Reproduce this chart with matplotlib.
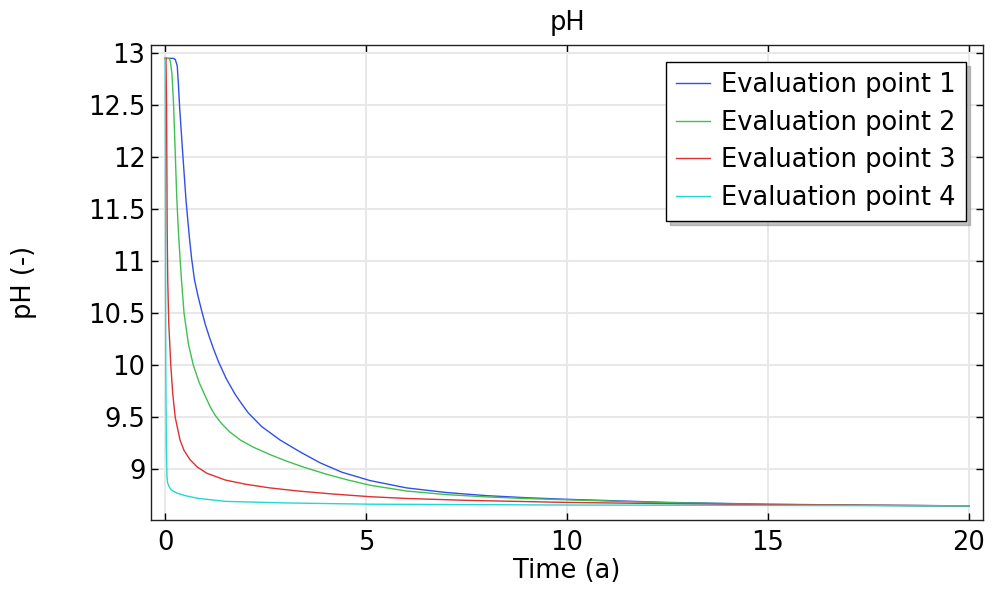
import numpy as np
import matplotlib.pyplot as plt
from matplotlib.ticker import FuncFormatter

# values (time in years, pH)
t1 = [0, 0.2, 0.25, 0.3, 0.33, 0.36, 0.44, 0.52, 0.6, 0.66, 0.73, 0.82, 0.91, 1.0, 1.1, 1.2, 1.33, 1.52, 1.74,
      1.9, 2.07, 2.4, 2.86, 3.36, 3.86, 4.4, 5.1, 6, 7, 8, 9, 10, 12.5, 15, 17.5, 20]
ph1 = [12.95, 12.95, 12.94, 12.88, 12.7, 12.48, 12.02, 11.58, 11.24, 11.02, 10.82, 10.66, 10.52, 10.39, 10.27, 10.16,
       10.03, 9.87, 9.72, 9.63, 9.54, 9.41, 9.28, 9.165, 9.06, 8.97, 8.89, 8.82, 8.775, 8.745, 8.725, 8.71, 8.68,
       8.663, 8.653, 8.647]

t2 = [0, 0.1, 0.13, 0.17, 0.21, 0.25, 0.29, 0.33, 0.4, 0.47, 0.58, 0.7, 0.85, 1.0, 1.12, 1.24, 1.4, 1.6,
      1.87, 2.2, 2.61, 3.0, 3.44, 4.0, 4.5, 5.1, 6, 7, 8, 9, 10, 12.5, 15, 17.5, 20]
ph2 = [12.95, 12.95, 12.92, 12.8, 12.5, 12.05, 11.6, 11.28, 10.85, 10.5, 10.2, 10.0, 9.83, 9.7, 9.6, 9.52, 9.44, 9.36,
       9.28, 9.21, 9.14, 9.08, 9.02, 8.953, 8.9, 8.845, 8.79, 8.755, 8.733, 8.717, 8.705, 8.677, 8.661, 8.652, 8.647]

t3 = [0, 0.02, 0.035, 0.05, 0.065, 0.09, 0.14, 0.19, 0.25, 0.37, 0.47, 0.62, 0.8, 1.04, 1.5, 2.0, 2.6,
      3.3, 4.2, 5.1, 6, 7.5, 10, 12.5, 15, 20]
ph3 = [12.95, 12.95, 12.5, 11.3, 10.8, 10.4, 10.0, 9.72, 9.5, 9.28, 9.18, 9.09, 9.02, 8.96, 8.895, 8.855, 8.82,
       8.79, 8.76, 8.735, 8.718, 8.7, 8.68, 8.668, 8.658, 8.647]

t4 = [0, 0.004, 0.008, 0.015, 0.03, 0.045, 0.06, 0.1, 0.15, 0.29, 0.5, 0.8, 1.5, 3, 5.1, 10, 20]
ph4 = [12.95, 12.6, 11.5, 10.0, 9.2, 8.93, 8.87, 8.83, 8.8, 8.77, 8.745, 8.72, 8.69, 8.675, 8.663, 8.655, 8.647]

labels = ['Evaluation point 1', 'Evaluation point 2', 'Evaluation point 3', 'Evaluation point 4']
colors = ['#3050e8', '#40c050', '#e03030', '#20d8d8']

fs = 18.5
plt.rcParams['font.family'] = 'DejaVu Sans'
fig = plt.figure(figsize=(9.94, 5.9), dpi=100)
ax = fig.add_axes([0.152, 0.119, 0.837, 0.805])

for t, ph, lab, c in zip([t1, t2, t3, t4], [ph1, ph2, ph3, ph4], labels, colors):
    ax.plot(t, ph, color=c, lw=1.0, label=lab)

ax.set_xlim(-0.35, 20.35)
ax.set_ylim(8.513, 13.08)
ax.set_xticks([0, 5, 10, 15, 20])
ax.set_yticks(np.arange(9, 13.01, 0.5))
ax.yaxis.set_major_formatter(FuncFormatter(lambda v, p: ('%g' % v)))
ax.tick_params(direction='in', length=5, width=1, top=True, right=True,
               labelsize=fs, labeltop=False, labelright=False, pad=4)
ax.tick_params(axis='x', pad=7.5)
ax.grid(True, color='#e8e8e8', lw=1.5)
ax.set_axisbelow(True)
for s in ax.spines.values():
    s.set_color('#222222')
    s.set_linewidth(1.0)

ax.set_title('pH', fontsize=fs, pad=11)
ax.set_xlabel('Time (a)', fontsize=fs, labelpad=1)
ax.set_ylabel('pH (-)', fontsize=fs, labelpad=37)

leg = ax.legend(loc='upper right', fontsize=fs, frameon=True, fancybox=False,
                shadow={'ox': 3, 'oy': -3, 'color': '#888888'}, edgecolor='black', framealpha=1,
                handlelength=1.3, handletextpad=0.45, labelspacing=0.45,
                borderaxespad=0.66, borderpad=0.4)
leg.get_frame().set_linewidth(1.0)

fig.savefig('out.png', dpi=100)
